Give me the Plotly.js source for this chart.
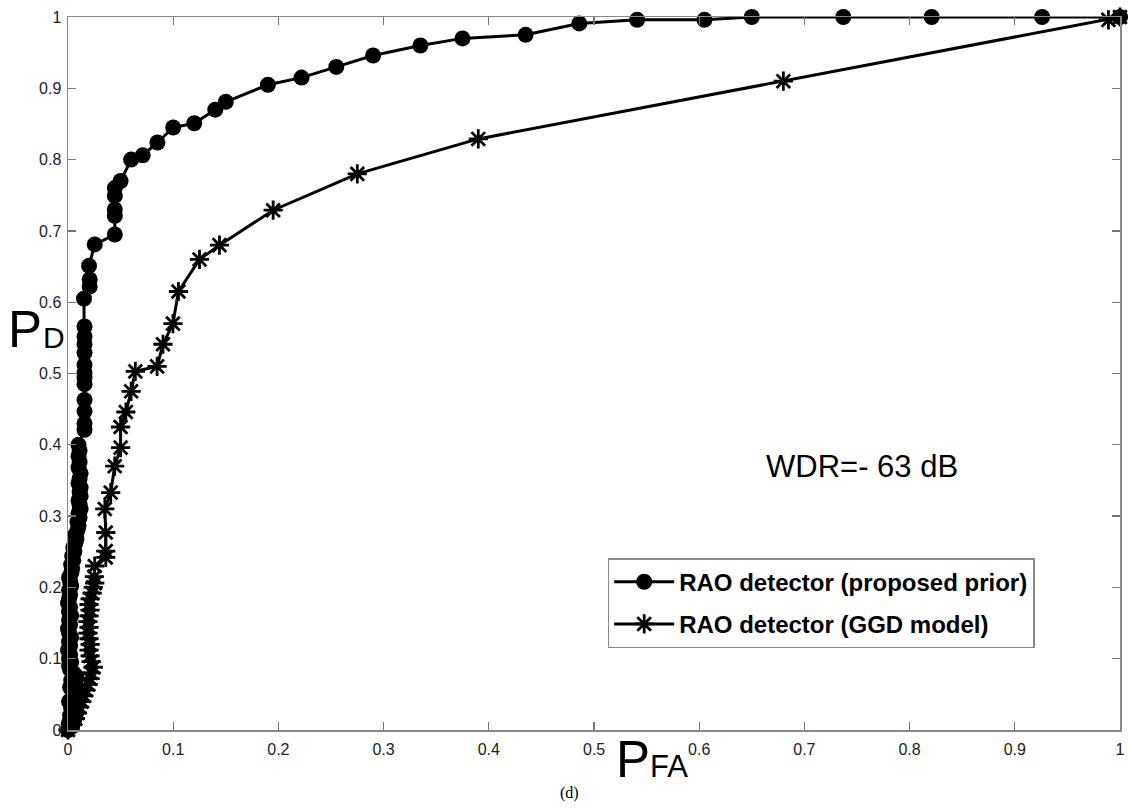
<!DOCTYPE html>
<html>
<head>
<meta charset="utf-8">
<script src="https://cdn.plot.ly/plotly-3.0.1.min.js"></script>
<style>
  html, body { margin: 0; padding: 0; background: #fff; }
  #chart { width: 1128px; height: 808px; }
</style>
</head>
<body>
<div id="chart"></div>
<script>
// ---- Data ----
const seriesNames = ["RAO detector (proposed prior)", "RAO detector (GGD model)"];

// RAO detector (proposed prior) - filled circles
const pfaProposed = [
  0, 0.004, 0.001, 0.006, 0.002, 0.008, 0.003, 0.007, 0.001, 0.005,
  0.009, 0.004, 0.002, 0.007, 0.003, 0.008, 0.005, 0.002, 0.001, 0.003,
  0.001, 0.002, 0.000, 0.002, 0.001, 0.003, 0.001, 0.000, 0.002, 0.001,
  0.003, 0.001, 0.002, 0.000, 0.001, 0.002, 0.001, 0.003, 0.002, 0.001,
  0.003, 0.004, 0.003, 0.005, 0.004, 0.006, 0.005, 0.007, 0.008, 0.007,
  0.009, 0.010, 0.009, 0.011, 0.010, 0.012, 0.011, 0.010, 0.012, 0.011,
  0.012, 0.010, 0.011, 0.012, 0.010, 0.011, 0.010, 0.011, 0.010,
  0.0157, 0.0157, 0.0157, 0.0157, 0.0157, 0.0157, 0.0157, 0.0157, 0.0157, 0.0157, 0.0157, 0.0157,
  0.0152, 0.0206, 0.0206, 0.020, 0.0254, 0.0445, 0.0445, 0.0445, 0.0445, 0.0445,
  0.050, 0.060, 0.071, 0.085, 0.100, 0.120, 0.140, 0.150, 0.190, 0.222,
  0.255, 0.290, 0.335, 0.375, 0.435, 0.486, 0.541, 0.605, 0.650, 0.737, 0.821, 0.926, 1.0];
const pdProposed = [
  0, 0.005, 0.01, 0.015, 0.02, 0.025, 0.03, 0.035, 0.04, 0.045,
  0.05, 0.055, 0.06, 0.065, 0.07, 0.075, 0.08, 0.085, 0.09, 0.095,
  0.10, 0.106, 0.112, 0.118, 0.124, 0.13, 0.136, 0.142, 0.148, 0.154,
  0.16, 0.166, 0.172, 0.178, 0.184, 0.19, 0.196, 0.202, 0.208, 0.214,
  0.22, 0.226, 0.232, 0.238, 0.244, 0.25, 0.256, 0.262, 0.268, 0.274,
  0.28, 0.286, 0.292, 0.298, 0.304, 0.31, 0.316, 0.322, 0.328, 0.334,
  0.34, 0.346, 0.352, 0.36, 0.368, 0.376, 0.384, 0.392, 0.40,
  0.421, 0.430, 0.447, 0.463, 0.485, 0.494, 0.501, 0.512, 0.529, 0.541, 0.552, 0.566,
  0.605, 0.622, 0.632, 0.651, 0.681, 0.695, 0.721, 0.730, 0.749, 0.760,
  0.770, 0.800, 0.806, 0.824, 0.845, 0.851, 0.870, 0.881, 0.905, 0.915,
  0.930, 0.946, 0.960, 0.970, 0.975, 0.991, 0.996, 0.996, 1.0, 1.0, 1.0, 1.0, 1.0];

// RAO detector (GGD model) - asterisks
const pfaGGD = [
  0, 0.004, 0.007, 0.009, 0.011, 0.013, 0.015, 0.017, 0.019, 0.021,
  0.022, 0.024, 0.022, 0.021, 0.020, 0.021, 0.020, 0.019, 0.020, 0.019,
  0.020, 0.021, 0.020, 0.021, 0.023, 0.024, 0.0254, 0.025, 0.0254,
  0.0359, 0.0359, 0.0359, 0.035, 0.0406,
  0.0444, 0.050, 0.050, 0.055, 0.060, 0.064, 0.0847, 0.0903, 0.0998, 0.105,
  0.125, 0.144, 0.195, 0.275, 0.390, 0.680, 0.989, 1.0];
const pdGGD = [
  0, 0.008, 0.016, 0.024, 0.032, 0.04, 0.048, 0.056, 0.064, 0.072,
  0.08, 0.088, 0.096, 0.104, 0.112, 0.12, 0.128, 0.136, 0.144, 0.152,
  0.16, 0.168, 0.176, 0.184, 0.192, 0.2, 0.206, 0.215, 0.23,
  0.242, 0.251, 0.277, 0.310, 0.333,
  0.370, 0.396, 0.425, 0.446, 0.475, 0.503, 0.510, 0.541, 0.570, 0.615,
  0.660, 0.680, 0.729, 0.780, 0.829, 0.910, 0.996, 1.0];

const tickVals = [0, 0.1, 0.2, 0.3, 0.4, 0.5, 0.6, 0.7, 0.8, 0.9, 1];
const tickText = ["0", "0.1", "0.2", "0.3", "0.4", "0.5", "0.6", "0.7", "0.8", "0.9", "1"];
const annotationText = "WDR=- 63 dB";
const xLabelMain = "P", xLabelSub = "FA";
const yLabelMain = "P", yLabelSub = "D";
const captionText = "(d)";

// ---- Traces ----
const traces = [
  {
    x: pfaProposed, y: pdProposed, name: seriesNames[0],
    type: "scatter", mode: "lines+markers", cliponaxis: false,
    legendgroup: "a",
    line: { color: "#000", width: 3 },
    marker: { symbol: "circle", size: 16, color: "#000" }
  },
  {
    x: pfaGGD, y: pdGGD, name: seriesNames[1],
    type: "scatter", mode: "lines+markers", cliponaxis: false,
    legendgroup: "b",
    line: { color: "#000", width: 3 },
    marker: { symbol: "asterisk-open", size: 16, color: "#000", line: { color: "#000", width: 2.8 } }
  }
];

const axisCommon = {
  range: [0, 1],
  tickvals: tickVals, ticktext: tickText,
  ticks: "inside", ticklen: 8, tickwidth: 1.2, tickcolor: "#777",
  showline: true, linecolor: "#888", linewidth: 1.5, mirror: "ticks",
  showgrid: false, zeroline: false,
  tickfont: { family: "Liberation Sans, Arial, sans-serif", size: 16, color: "#222" },
  fixedrange: true
};

const bigFont = { family: "Liberation Sans, Arial, sans-serif", size: 51, color: "#000" };
const subFont = { family: "Liberation Sans, Arial, sans-serif", size: 30, color: "#000" };

const layout = {
  width: 1128, height: 808,
  paper_bgcolor: "#fff", plot_bgcolor: "#fff",
  margin: { l: 68, r: 8, t: 17, b: 78, pad: 0 },
  showlegend: true,
  xaxis: Object.assign({}, axisCommon, { ticklabelstandoff: 4 }),
  yaxis: Object.assign({}, axisCommon, { ticklabelstandoff: 2 }),
  legend: {
    x: 0.513, y: 0.241, xanchor: "left", yanchor: "top",
    bgcolor: "#fff", bordercolor: "#888", borderwidth: 1.5,
    traceorder: "grouped", tracegroupgap: 8,
    font: { family: "Liberation Sans, Arial, sans-serif", size: 24, color: "#000", weight: "bold" },
    itemwidth: 60
  },
  annotations: [
    {
      xref: "paper", yref: "paper", x: 0.755, y: 0.369, xanchor: "center", yanchor: "middle",
      text: annotationText, showarrow: false,
      font: { family: "Liberation Sans, Arial, sans-serif", size: 31, color: "#000" }
    },
    {
      xref: "paper", yref: "paper", x: -0.0589, y: 0.562, xanchor: "left", yanchor: "middle",
      text: yLabelMain, showarrow: false, font: bigFont
    },
    {
      xref: "paper", yref: "paper", x: -0.0257, y: 0.551, xanchor: "left", yanchor: "middle",
      text: yLabelSub, showarrow: false, font: subFont
    },
    {
      xref: "paper", yref: "paper", x: 0.519, y: -0.041, xanchor: "left", yanchor: "middle",
      text: xLabelMain + '<span style="font-size:31px">' + xLabelSub + '</span>',
      showarrow: false, font: bigFont
    },
    {
      xref: "paper", yref: "paper", x: 0.477, y: -0.088, xanchor: "center", yanchor: "middle",
      text: captionText, showarrow: false,
      font: { family: "Liberation Serif, Times New Roman, serif", size: 16, color: "#000" }
    }
  ]
};

Plotly.newPlot("chart", traces, layout, { staticPlot: true, displayModeBar: false });
</script>
</body>
</html>
